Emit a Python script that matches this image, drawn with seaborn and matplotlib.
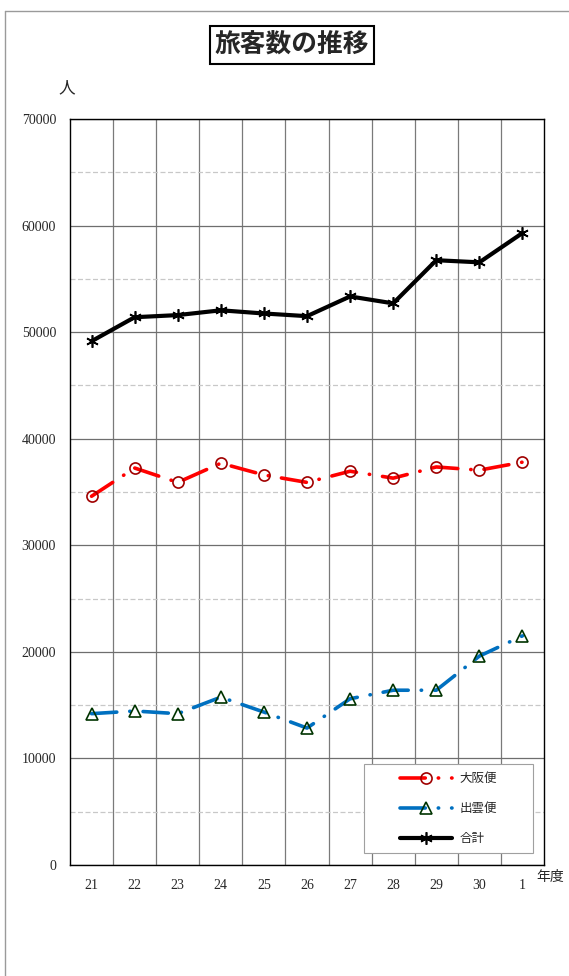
import numpy as np
import pandas as pd
import matplotlib
matplotlib.use("Agg")
import matplotlib.pyplot as plt
from matplotlib.lines import Line2D
from matplotlib.patches import Rectangle
from matplotlib.ticker import MultipleLocator
import seaborn as sns

sns.set_style("white")
plt.rcParams['font.family'] = ['Noto Sans CJK JP', 'DejaVu Sans']

years = ['21', '22', '23', '24', '25', '26', '27', '28', '29', '30', '1']
osaka = [34600, 37250, 35900, 37700, 36600, 35900, 36950, 36300, 37350, 37050, 37800]
izumo = [14200, 14450, 14200, 15750, 14350, 12850, 15600, 16400, 16400, 19600, 21500]
total = [49150, 51400, 51600, 52050, 51750, 51500, 53350, 52700, 56750, 56550, 59300]

df = pd.DataFrame({'year': years, 'osaka': osaka, 'izumo': izumo, 'total': total})

fig = plt.figure(figsize=(5.69, 9.76), dpi=100)
ax = fig.add_axes([70 / 569, 1 - 865 / 976, 474 / 569, 746 / 976])

# grid
ax.set_ylim(0, 70000)
ax.set_xlim(-0.5, len(years) - 0.5)
ax.yaxis.set_major_locator(MultipleLocator(10000))
ax.yaxis.set_minor_locator(MultipleLocator(5000))
ax.set_xticks(range(len(years)))
ax.set_xticks(np.arange(0.5, len(years) - 1, 1.0), minor=True)
ax.grid(True, which='major', axis='y', color='#6e6e6e', lw=0.9)
ax.grid(True, which='minor', axis='y', color='#c8c8c8', lw=0.9, ls=(0, (4, 2)))
ax.grid(True, which='minor', axis='x', color='#7a7a7a', lw=0.9)
ax.grid(False, which='major', axis='x')
ax.set_axisbelow(True)

dashdot = (0, (7, 3.6, 0.1, 3.6))
sns.lineplot(data=df, x='year', y='osaka', ax=ax, color='#ff0000', lw=2.6,
             ls=dashdot, dash_capstyle='round',
             marker='o', ms=8, mfc='none', mec='#a00000', mew=1.2,
             label='大阪便', sort=False)
sns.lineplot(data=df, x='year', y='izumo', ax=ax, color='#0070c0', lw=2.6,
             ls=dashdot, dash_capstyle='round',
             marker='^', ms=8, mfc='none', mec='#003300', mew=1.2,
             label='出雲便', sort=False)
sns.lineplot(data=df, x='year', y='total', ax=ax, color='black', lw=3,
             marker=(6, 2, 0), ms=9, mec='black', mew=1.2,
             label='合計', sort=False)

ax.set_xticks(range(len(years)))
ax.set_xticklabels(years)
ax.set_xlim(-0.5, len(years) - 0.5)
ax.set_xlabel('')
ax.set_ylabel('')
for lbl in ax.get_xticklabels() + ax.get_yticklabels():
    lbl.set_family(['Liberation Serif', 'DejaVu Serif'])
    lbl.set_fontsize(10)
ax.tick_params(axis='both', which='both', length=0)
ax.tick_params(axis='x', pad=10)
ax.tick_params(axis='y', pad=10)
for s in ax.spines.values():
    s.set_color('black')
    s.set_linewidth(1.0)

# legend box drawn separately so that it can be wider than its entries
ax.add_patch(Rectangle((0.62, 0.016), 0.357, 0.119, transform=ax.transAxes,
                       fc='white', ec='#a0a0a0', lw=0.8, zorder=5))
leg = ax.legend(loc='center', bbox_to_anchor=(0.7985, 0.0755), fontsize=9,
                frameon=False, handlelength=4.2, handletextpad=0.6,
                labelspacing=1.35, borderaxespad=0)
leg.set_zorder(6)

fig.text(292 / 569, 1 - 45 / 976, '旅客数の推移', ha='center', va='center',
         fontsize=18.5, fontweight='bold',
         bbox=dict(boxstyle='square,pad=0.2', fc='white', ec='black', lw=1.5))
fig.text(67 / 569, 1 - 88 / 976, '人', ha='center', va='center', fontsize=12)
fig.text(550 / 569, 1 - 877 / 976, '年度', ha='center', va='center', fontsize=10)

# outer frame
fig.add_artist(Line2D([5 / 569, 1], [1 - 11 / 976, 1 - 11 / 976], color='#9a9a9a', lw=1))
fig.add_artist(Line2D([5 / 569, 5 / 569], [0, 1 - 11 / 976], color='#9a9a9a', lw=1))

fig.savefig('out.png', dpi=100)
